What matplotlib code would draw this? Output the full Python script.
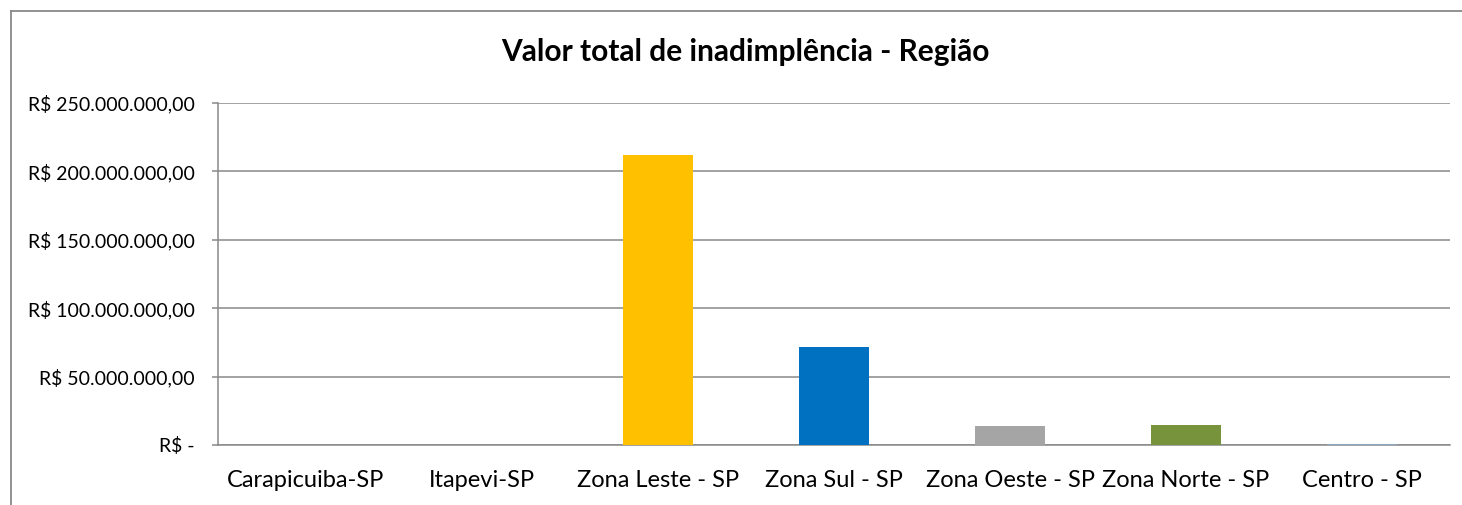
import matplotlib
matplotlib.use('Agg')
import matplotlib.pyplot as plt
from matplotlib.lines import Line2D
from matplotlib.ticker import FuncFormatter, MultipleLocator

regioes = ['Carapicuiba-SP', 'Itapevi-SP', 'Zona Leste - SP', 'Zona Sul - SP',
           'Zona Oeste - SP', 'Zona Norte - SP', 'Centro - SP']
valores = [50000, 80000, 212000000, 71800000, 14000000, 14700000, 500000]
cores = ['#4472C4', '#ED7D31', '#FFC000', '#0070C0', '#A5A5A5', '#77933C', '#8EA9C1']

plt.rcParams['font.family'] = ['Lato', 'DejaVu Sans']

W, H = 1462, 505
fig = plt.figure(figsize=(W / 100, H / 100), dpi=100)
ax = fig.add_axes([218 / W, 1 - 445 / H, (1450 - 218) / W, (445 - 103) / H])

x = range(len(regioes))
ax.bar(x, valores, width=0.40, color=cores, zorder=3)

ax.set_xlim(-0.5, len(regioes) - 0.5)
ax.set_ylim(0, 250000000)
ax.yaxis.set_major_locator(MultipleLocator(50000000))


def reais(v, pos):
    if v == 0:
        return 'R$ -'
    s = '{:,.2f}'.format(v).replace(',', 'X').replace('.', ',').replace('X', '.')
    return 'R$ ' + s


ax.yaxis.set_major_formatter(FuncFormatter(reais))
ax.set_xticks(list(x))
ax.set_xticklabels(regioes)

cinza = '#898989'
ax.grid(axis='y', color=cinza, linewidth=1.1, zorder=0)
for lado in ['top', 'right']:
    ax.spines[lado].set_visible(False)
for lado in ['left', 'bottom']:
    ax.spines[lado].set_color(cinza)
    ax.spines[lado].set_linewidth(1.1)
ax.tick_params(axis='y', direction='out', length=4.5, width=1.1, color=cinza,
               labelsize=14, pad=12, labelcolor='black')
ax.tick_params(axis='x', length=0, labelsize=17, pad=18, labelcolor='black')

fig.text(745 / W, 1 - 52 / H, 'Valor total de inadimplência - Região',
         ha='center', va='center', fontsize=21.5, fontweight='bold')

# moldura do gráfico (cortada à direita e embaixo)
fx = 10.5 / W
fy = 1 - 11 / H
fig.add_artist(Line2D([fx, fx], [0, fy], color=cinza, linewidth=1.3))
fig.add_artist(Line2D([fx, 1], [fy, fy], color=cinza, linewidth=1.3))

fig.savefig('out.png', dpi=100)
